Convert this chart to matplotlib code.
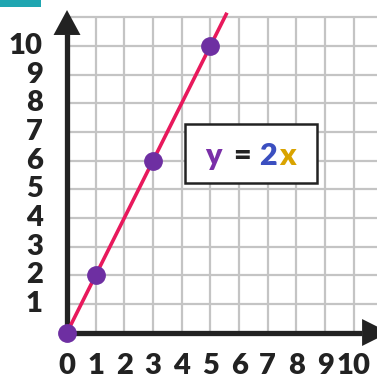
import matplotlib.pyplot as plt
from matplotlib.patches import Rectangle

# data: y = 2x
x_points = [0, 1, 3, 5]
y_points = [0, 2, 6, 10]
x_ticks = [0, 1, 2, 3, 4, 5, 6, 7, 8, 9, 10]
y_ticks = [1, 2, 3, 4, 5, 6, 7, 8, 9, 10]
slope = 2

fig = plt.figure(figsize=(3.77, 3.80), dpi=100)
ax = fig.add_axes([0, 0, 1, 1])
ax.set_xlim(-2.337, 10.81)
ax.set_ylim(-1.657, 11.6)
ax.axis('off')

grid_c = '#c4c4c4'
axis_c = '#222222'
font = dict(family=['Lato', 'DejaVu Sans'], fontweight='heavy')

# grid
ax.vlines(range(1, 12), 0, 11, color=grid_c, lw=1.6, zorder=1)
ax.hlines(range(1, 12), 0, 11, color=grid_c, lw=1.6, zorder=1)

# axes with arrow heads
ax.plot([0, 0], [0, 10.4], color=axis_c, lw=3.8, solid_capstyle='butt', zorder=3)
ax.fill([-0.47, 0.47, 0], [10.38, 10.38, 11.25], color=axis_c, lw=0, zorder=3)
ax.plot([0, 10.3], [0, 0], color=axis_c, lw=3.8, solid_capstyle='butt', zorder=3)
ax.fill([10.29, 10.29, 11.23], [-0.47, 0.47, 0], color=axis_c, lw=0, zorder=3)

# tick labels
for t in x_ticks:
    ax.text(t, -1.17, str(t), ha='center', va='center', fontsize=21,
            color=axis_c, **font)
for t in y_ticks:
    ax.text(-0.85, t, str(t), ha='right', va='center', fontsize=21,
            color=axis_c, **font)

# line and points
ax.plot([0, 5.55], [0, 5.55 * slope], color='#e8195c', lw=2.6, zorder=4)
ax.plot(x_points, y_points, 'o', color='#6e2fa2', ms=12.5, zorder=5)

# equation box
ax.add_patch(Rectangle((4.116, 5.21), 4.6, 2.06, facecolor='white',
                       edgecolor=axis_c, lw=1.8, zorder=6))
parts = [('y', 5.09, '#7a2fa8'), ('=', 6.1, axis_c),
         ('2', 7.01, '#3b4fc0'), ('x', 7.67, '#d9a300')]
for s, xp, c in parts:
    ax.text(xp, 5.84, s, ha='center', va='baseline', fontsize=22,
            color=c, zorder=7, **font)

# teal tab at top left
ax.add_patch(Rectangle((-2.4, 11.356), 1.493, 0.4, facecolor='#1fa6b1',
                       lw=0, zorder=2, clip_on=True))

fig.savefig('out.png', dpi=100)
